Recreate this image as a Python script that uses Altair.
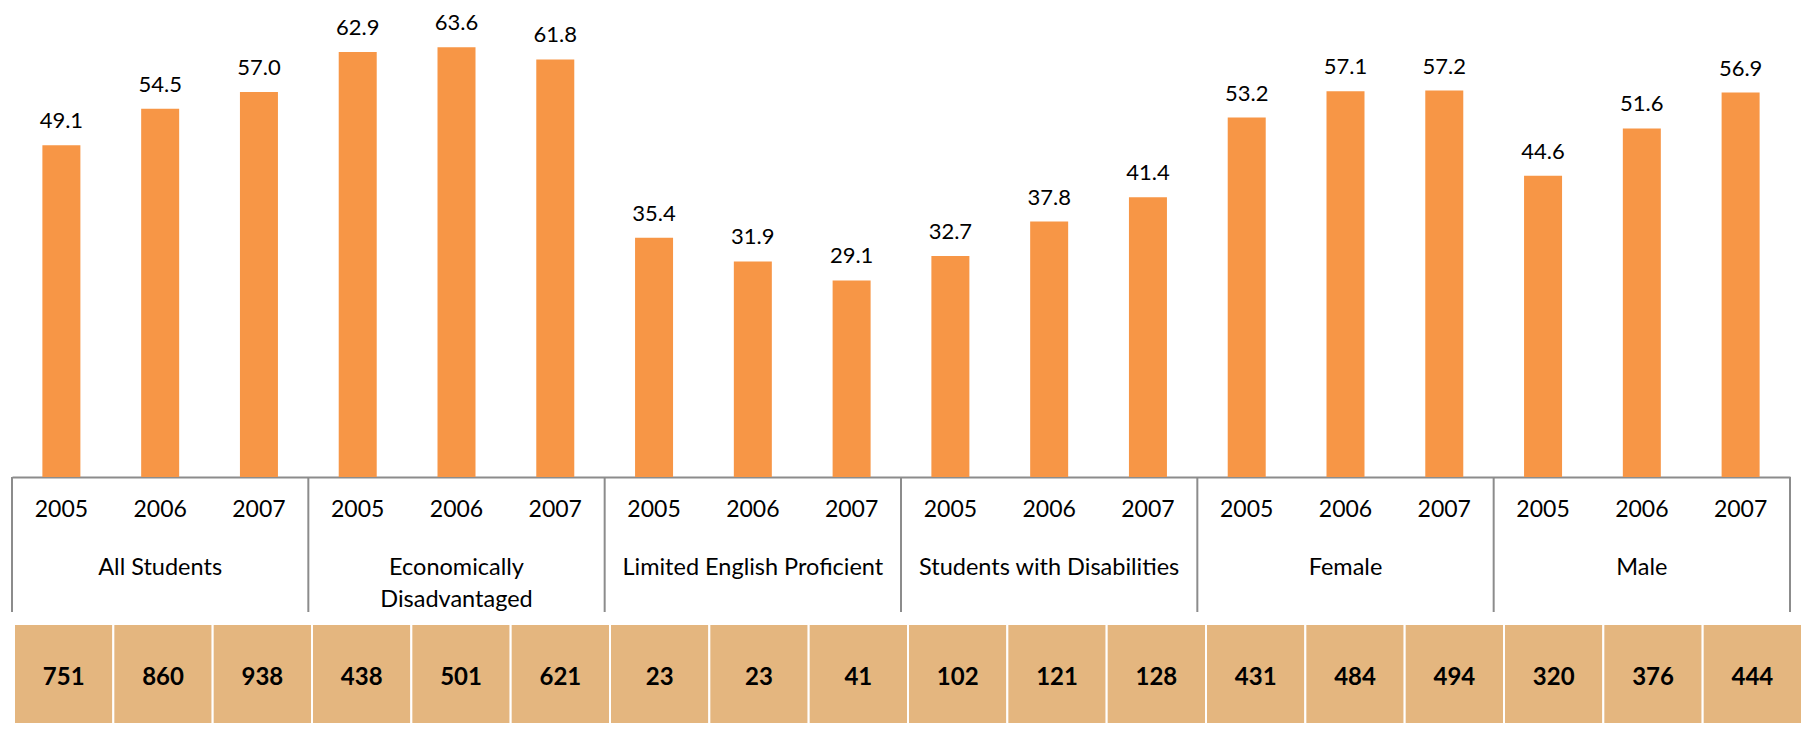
import altair as alt
import pandas as pd

groups = ["All Students", "Economically Disadvantaged", "Limited English Proficient",
          "Students with Disabilities", "Female", "Male"]
group_labels = ["All Students", "Economically\nDisadvantaged", "Limited English Proficient",
                "Students with Disabilities", "Female", "Male"]
years = ["2005", "2006", "2007"]
pct = [49.1, 54.5, 57.0, 62.9, 63.6, 61.8, 35.4, 31.9, 29.1,
       32.7, 37.8, 41.4, 53.2, 57.1, 57.2, 44.6, 51.6, 56.9]
counts = [751, 860, 938, 438, 501, 621, 23, 23, 41,
          102, 121, 128, 431, 484, 494, 320, 376, 444]

rows = []
for gi, g in enumerate(groups):
    for yi, yr in enumerate(years):
        i = gi * 3 + yi
        rows.append({"key": f"{g}|{yr}", "group": g, "year": yr,
                     "pct": pct[i], "count": counts[i]})
df = pd.DataFrame(rows)
keys = list(df["key"])
grp_df = pd.DataFrame({
    "first": [f"{g}|2005" for g in groups],
    "mid": [f"{g}|2006" for g in groups],
    "label": group_labels,
})
last_df = pd.DataFrame({"last": [keys[-1]]})

FONT = "Lato"
GRID = "#8C8C8C"
W, H = 1778, 463
TOP = 6

xs = alt.Scale(domain=keys, paddingInner=0, paddingOuter=0)
ys = alt.Scale(domain=[0, 68.53])
X = alt.X("key:N", scale=xs, axis=alt.Axis(labels=False, ticks=False, title=None,
                                          domainColor=GRID, domainWidth=2, grid=False))
Xn = alt.X("key:N", scale=xs, axis=None)
Y = alt.Y("pct:Q", scale=ys, axis=None)

base = alt.Chart(df)

bars = base.mark_bar(color="#F79646", width=38).encode(x=X, y=Y)
vals = base.mark_text(font=FONT, fontSize=22, baseline="alphabetic", dy=-17,
                      color="#000000").encode(
    x=Xn, y=Y, text=alt.Text("pct:Q", format=".1f"))

div_left = alt.Chart(grp_df).mark_rule(color=GRID, strokeWidth=2).encode(
    x=alt.X("first:N", scale=xs, axis=None, bandPosition=0),
    y=alt.value(H), y2=alt.value(598))
div_right = alt.Chart(last_df).mark_rule(color=GRID, strokeWidth=2).encode(
    x=alt.X("last:N", scale=xs, axis=None, bandPosition=1),
    y=alt.value(H), y2=alt.value(598))

year_lbl = base.mark_text(font=FONT, fontSize=23, baseline="middle",
                          color="#000000").encode(
    x=Xn, y=alt.value(496), text="year:N")
grp_lbl = alt.Chart(grp_df).mark_text(font=FONT, fontSize=23.5, baseline="top",
                                      lineBreak="\n", lineHeight=32,
                                      color="#000000").encode(
    x=alt.X("mid:N", scale=xs, axis=None), y=alt.value(542), text="label:N")

xt = alt.X("key:N", scale=alt.Scale(domain=keys, range=[2, 1790],
                                    paddingInner=0, paddingOuter=0), axis=None)
cells = base.mark_rect(color="#E4B67F", stroke="white", strokeWidth=2).encode(
    x=xt, y=alt.value(610), y2=alt.value(710))
cell_txt = base.mark_text(font=FONT, fontSize=24, fontWeight="bold", baseline="middle",
                          color="#000000").encode(
    x=xt, y=alt.value(664), text="count:Q")

chart = alt.layer(bars, vals, div_left, div_right, year_lbl, grp_lbl, cells, cell_txt
                  ).resolve_scale(x="independent").properties(
    width=W, height=H,
    padding={"left": 4, "right": 12, "top": TOP, "bottom": 716 - TOP - H},
    autosize="none",
).configure_view(stroke=None)

chart.save("out.html", embed_options={"renderer": "svg", "actions": False})
